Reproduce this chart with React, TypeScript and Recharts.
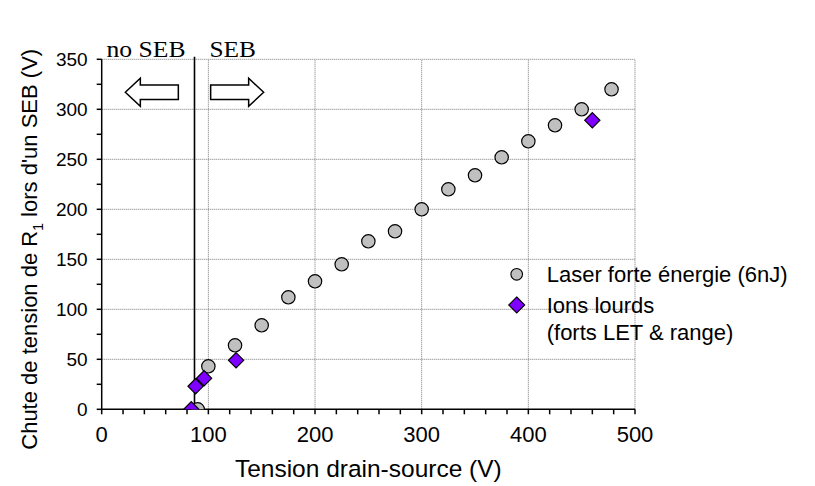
import React from 'react';
import {
  ScatterChart, Scatter, XAxis, YAxis, ReferenceLine, ReferenceDot, Label,
} from 'recharts';

// ---- data ----
const laserX = [90, 100, 125, 150, 175, 200, 225, 250, 275, 300, 325, 350, 375, 400, 425, 450, 478];
const laserY = [0, 43, 64, 84, 112, 128, 145, 168, 178, 200, 220, 234, 252, 268, 284, 300, 320];
const ionsX = [84, 88, 96, 126, 460];
const ionsY = [0, 23, 31, 49, 289];

const xTicks = [0, 20, 40, 60, 80, 100, 120, 140, 160, 180, 200, 220, 240, 260, 280, 300, 320, 340, 360, 380, 400, 420, 440, 460, 480, 500];
const yTicks = [0, 25, 50, 75, 100, 125, 150, 175, 200, 225, 250, 275, 300, 325, 350];
const xGrid = [100, 200, 300, 400, 500];
const yGrid = [50, 100, 150, 200, 250, 300, 350];

const sebThreshold = 87;
const arrowLeft = { x: 47, y: 317 };
const arrowRight = { x: 127, y: 317 };
const sebLabelY = 353;

const seriesNames = ['Laser forte énergie (6nJ)', 'Ions lourds', '(forts LET & range)'];
const xTitle = 'Tension drain-source (V)';

const laserData = laserX.map((v, i) => ({ v, d: laserY[i] }));
const ionsData = ionsX.map((v, i) => ({ v, d: ionsY[i] }));

const SANS = '"Liberation Sans", Arial, sans-serif';
const SERIF = '"Liberation Serif", "Times New Roman", serif';
const GRAY = '#c0c0c0';
const VIOLET = '#7f00ff';

const CircleShape = (p: any) => (
  <circle cx={p.cx} cy={p.cy} r={6.7} fill={GRAY} stroke="#000" strokeWidth={1.2} />
);
const DiamondShape = (p: any) => {
  const h = 7.6;
  return (
    <polygon
      points={`${p.cx},${p.cy - h} ${p.cx + h},${p.cy} ${p.cx},${p.cy + h} ${p.cx - h},${p.cy}`}
      fill={VIOLET}
      stroke="#000"
      strokeWidth={1.2}
    />
  );
};

const arrowPath = (cx: number, cy: number, dir: number) => {
  const L = 53, H = 15, HH = 14, SH = 7.3;
  const tip = cx + dir * (L / 2);
  const tail = cx - dir * (L / 2);
  const base = tip - dir * H;
  return `M${tip},${cy} L${base},${cy - HH} L${base},${cy - SH} L${tail},${cy - SH} L${tail},${cy + SH} L${base},${cy + SH} L${base},${cy + HH} Z`;
};

const LeftArrow = (p: any) => (
  <path d={arrowPath(p.cx, p.cy, -1)} fill="#fff" stroke="#000" strokeWidth={1.5} />
);
const RightArrow = (p: any) => (
  <path d={arrowPath(p.cx, p.cy, 1)} fill="#fff" stroke="#000" strokeWidth={1.5} />
);
const SebLabels = (p: any) => (
  <g fontFamily={SERIF} fontSize={23} fill="#000">
    <text x={p.cx - 88} y={p.cy + 0.5} textLength={79} lengthAdjust="spacingAndGlyphs">no SEB</text>
    <text x={p.cx + 15} y={p.cy + 0.5} textLength={46.5} lengthAdjust="spacingAndGlyphs">SEB</text>
  </g>
);

const XTitle = (props: any) => {
  const vb = props.viewBox;
  return (
    <text x={vb.x + vb.width / 2} y={vb.y + 67.4} textAnchor="middle" fontFamily={SANS} fontSize={24.5} fill="#000">
      {xTitle}
    </text>
  );
};

const YTitle = (props: any) => {
  const vb = props.viewBox;
  const cx = 29;
  const cy = vb.y + vb.height / 2 + 15;
  return (
    <text x={cx} y={cy} transform={`rotate(-90 ${cx} ${cy})`} textAnchor="middle" fontFamily={SANS} fontSize={22} fill="#000">
      <tspan>Chute de tension de R</tspan>
      <tspan fontSize={14} dy={6}>1</tspan>
      <tspan dy={-6}> lors d'un SEB (V)</tspan>
    </text>
  );
};

const LegendBox = () => (
  <svg width={300} height={90} style={{ display: 'block', position: 'absolute', left: 492, top: 252 }}>
    <circle cx={16.7} cy={14.3} r={5.8} fill={GRAY} stroke="#000" strokeWidth={1.1} />
    <polygon points="16.7,37 24.7,45 16.7,53 8.7,45" fill={VIOLET} stroke="#000" strokeWidth={1.1} />
    <g fontFamily={SANS} fontSize={22} fill="#000">
      <text x={46.7} y={22.3}>{seriesNames[0]}</text>
      <text x={46.7} y={53}>{seriesNames[1]}</text>
      <text x={46.7} y={79.7}>{seriesNames[2]}</text>
    </g>
  </svg>
);

const fmtX = (v: number) => (v % 100 === 0 ? String(v) : '');
const fmtY = (v: number) => (v % 50 === 0 ? String(v) : '');

export default function App() {
  return (
    <div style={{ position: 'relative', width: 800, height: 478 }}>
      <ScatterChart
        width={800}
        height={478}
        margin={{ top: 51.3, right: 173, bottom: 0, left: 33.7 }}
      >
        <XAxis
          type="number"
          dataKey="v"
          domain={[0, 500]}
          ticks={xTicks}
          interval={0}
          tickFormatter={fmtX}
          tick={{ fontSize: 22, fill: '#000', fontFamily: SANS }}
          tickSize={5}
          tickMargin={12}
          axisLine={{ stroke: '#000', strokeWidth: 1.5 }}
          tickLine={{ stroke: '#000', strokeWidth: 1.5 }}
          height={76.7}
          allowDataOverflow
        >
          <Label content={XTitle} />
        </XAxis>
        <YAxis
          type="number"
          dataKey="d"
          domain={[0, 350]}
          ticks={yTicks}
          interval={0}
          tickFormatter={fmtY}
          tick={{ fontSize: 19, fill: '#000', fontFamily: SANS }}
          tickSize={5}
          tickMargin={9}
          axisLine={{ stroke: '#000', strokeWidth: 1.5 }}
          tickLine={{ stroke: '#000', strokeWidth: 1.5 }}
          width={60}
          allowDataOverflow
        >
          <Label content={YTitle} />
        </YAxis>
        {xGrid.map((g) => (
          <ReferenceLine key={'gx' + g} x={g} stroke="#777" strokeDasharray="1 1" strokeWidth={1} />
        ))}
        {yGrid.map((g) => (
          <ReferenceLine key={'gy' + g} y={g} stroke="#777" strokeDasharray="1 1" strokeWidth={1} />
        ))}
        <Scatter name={seriesNames[0]} data={laserData} shape={CircleShape} isAnimationActive={false} />
        <Scatter name={seriesNames[1]} data={ionsData} shape={DiamondShape} isAnimationActive={false} />
        <ReferenceLine
          segment={[{ x: sebThreshold, y: 0 }, { x: sebThreshold, y: 352.5 }]}
          ifOverflow="visible"
          stroke="#000"
          strokeWidth={1.6}
        />
        <ReferenceDot x={arrowLeft.x} y={arrowLeft.y} shape={LeftArrow} ifOverflow="visible" />
        <ReferenceDot x={arrowRight.x} y={arrowRight.y} shape={RightArrow} ifOverflow="visible" />
        <ReferenceDot x={sebThreshold} y={sebLabelY} shape={SebLabels} ifOverflow="visible" />
      </ScatterChart>
      <LegendBox />
    </div>
  );
}
